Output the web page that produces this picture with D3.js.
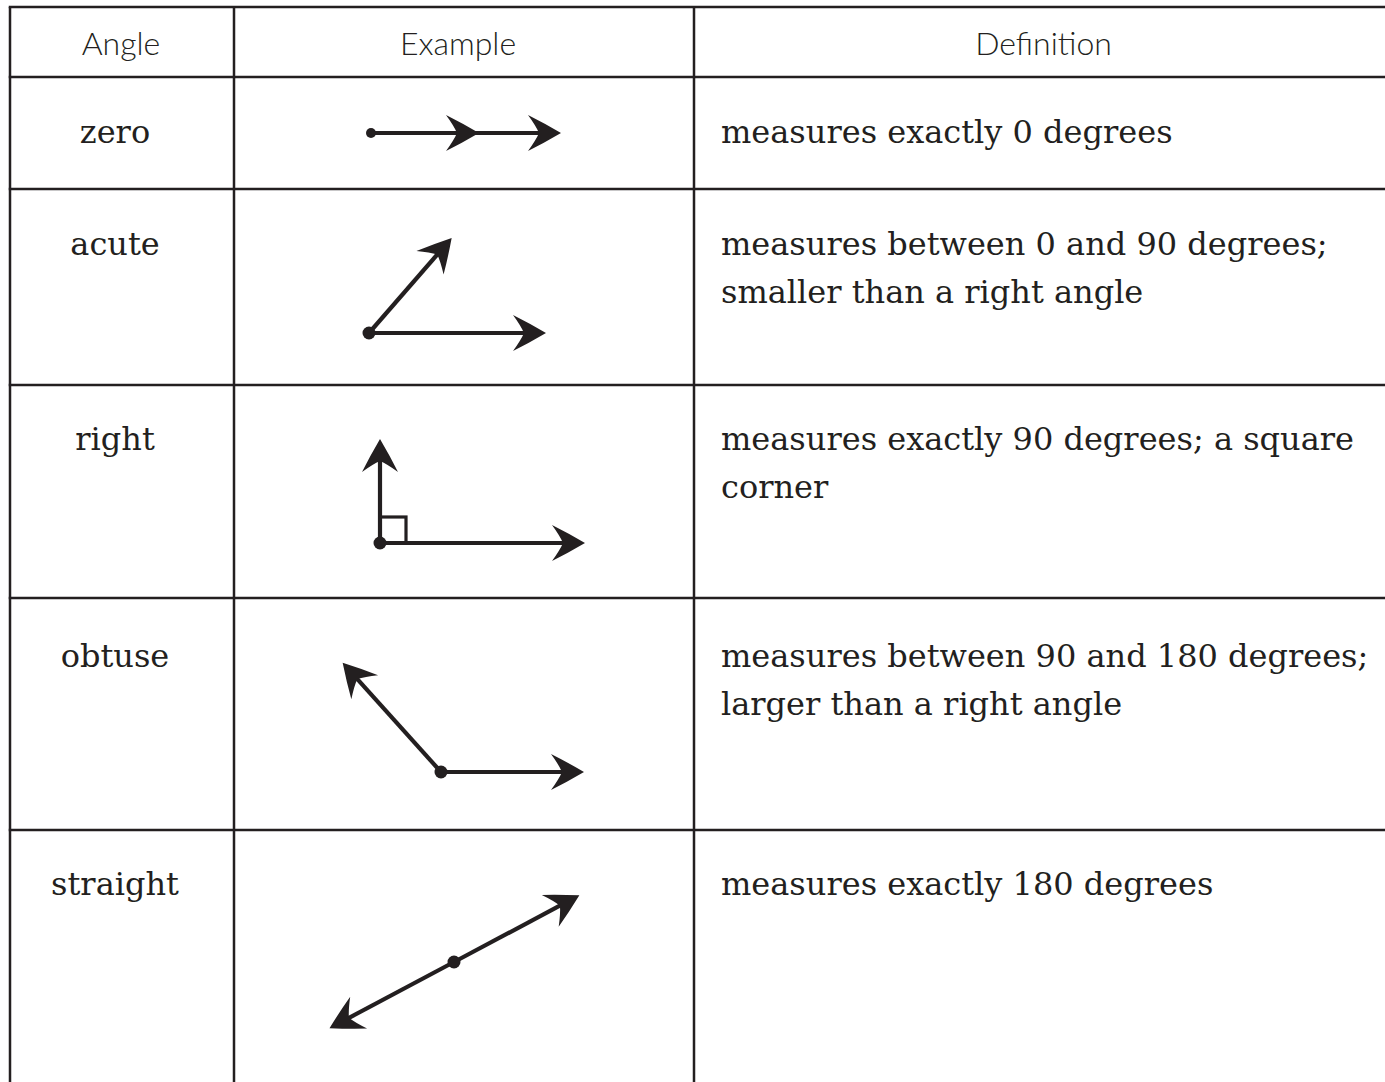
<!DOCTYPE html>
<html>
<head>
<meta charset="utf-8">
<script src="https://cdn.jsdelivr.net/npm/d3@7"></script>
<style>
  body { margin: 0; background: #fff; }
  .head { font-family: Lato, "Noto Sans", sans-serif; font-weight: 300; font-size: 32px; fill: #231f20; }
  .body { font-family: "DejaVu Serif", "Liberation Serif", serif; font-size: 32px; fill: #231f20; }
</style>
</head>
<body>
<div id="chart"></div>
<script>
//table content
var headers = ["Angle", "Example", "Definition"];
var angleNames = ["zero", "acute", "right", "obtuse", "straight"];
var definitions = [
    ["measures exactly 0 degrees"],
    ["measures between 0 and 90 degrees;", "smaller than a right angle"],
    ["measures exactly 90 degrees; a square", "corner"],
    ["measures between 90 and 180 degrees;", "larger than a right angle"],
    ["measures exactly 180 degrees"]
];

//rays of each example: direction in degrees and length in px
var rayAngles = [[0, 0], [0, 49], [0, 90], [0, 132], [28, 208]];
var rayLengths = [[108, 190], [177, 126], [205, 104], [143, 147], [142, 141]];

//layout
var width = 1385, height = 1082;
var colEdges = [10, 234, 694, width];
var rowEdges = [7, 77, 189, 385, 598, 830];
var vertexPos = [[371, 133], [369, 333], [380, 543], [441, 772], [454, 962]];
var firstBaseline = [66, 66, 65, 69, 65];
var headerShift = [-1, -6, 4];
var lineColor = "#231f20";

var svg = d3.select("#chart").append("svg")
    .attr("width", width)
    .attr("height", height);

svg.append("rect").attr("width", width).attr("height", height).attr("fill", "#fff");

//grid lines
var grid = svg.append("g").attr("class", "grid")
    .attr("stroke", lineColor)
    .attr("stroke-width", 2.5);

grid.selectAll("line.h")
    .data(rowEdges)
    .enter().append("line").attr("class", "h")
    .attr("x1", colEdges[0] - 1.25)
    .attr("x2", width)
    .attr("y1", d => d)
    .attr("y2", d => d);

grid.selectAll("line.v")
    .data(colEdges.slice(0, 3))
    .enter().append("line").attr("class", "v")
    .attr("x1", d => d)
    .attr("x2", d => d)
    .attr("y1", rowEdges[0])
    .attr("y2", height);

//header texts
svg.selectAll("text.head")
    .data(headers)
    .enter().append("text").attr("class", "head")
    .attr("x", (d, i) => (colEdges[i] + colEdges[i + 1]) / 2 + headerShift[i])
    .attr("y", 55)
    .attr("text-anchor", "middle")
    .text(d => d);

//angle names
svg.selectAll("text.name")
    .data(angleNames)
    .enter().append("text").attr("class", "body name")
    .attr("x", 115)
    .attr("y", (d, i) => rowEdges[i + 1] + firstBaseline[i])
    .attr("text-anchor", "middle")
    .text(d => d);

//definitions (one text per row, tspans per line)
svg.selectAll("text.def")
    .data(definitions)
    .enter().append("text").attr("class", "body def")
    .attr("y", (d, i) => rowEdges[i + 1] + firstBaseline[i])
    .each(function(lines) {
        var t = d3.select(this);
        var y0 = +t.attr("y");
        lines.forEach(function(line, j) {
            t.append("tspan")
                .attr("x", 721)
                .attr("y", y0 + j * 48)
                .text(line);
        });
    });

//degrees -> radial angle used by d3.pointRadial (0 deg = pointing right, counter-clockwise)
var angleScale = d3.scaleLinear().domain([0, 360]).range([Math.PI / 2, Math.PI / 2 - 2 * Math.PI]);

//barbed arrowhead pointing to +x with its tip at 0,0
var arrowHead = "M0,0 Q-17,-10 -33,-18 Q-25,-7 -22,0 Q-25,7 -33,18 Q-17,10 0,0 Z";

var examples = svg.selectAll("g.example")
    .data(angleNames)
    .enter().append("g").attr("class", "example")
    .attr("transform", (d, i) => `translate(${vertexPos[i][0]}, ${vertexPos[i][1]})`);

examples.each(function(name, i) {
    var g = d3.select(this);
    var rays = rayAngles[i].map((deg, k) => {
        var p = d3.pointRadial(angleScale(deg), rayLengths[i][k]);
        return {deg: deg, x: p[0], y: p[1]};
    });

    //right angle marker
    if (name === "right") {
        g.append("rect")
            .attr("x", 0).attr("y", -26)
            .attr("width", 26).attr("height", 26)
            .attr("fill", "none")
            .attr("stroke", lineColor)
            .attr("stroke-width", 3.2);
    }

    //shafts (stop a bit before the tip so the arrowhead point stays sharp)
    g.selectAll("line.ray")
        .data(rays)
        .enter().append("line").attr("class", "ray")
        .attr("x1", 0).attr("y1", 0)
        .attr("x2", d => d.x * (1 - 20 / Math.hypot(d.x, d.y)))
        .attr("y2", d => d.y * (1 - 20 / Math.hypot(d.x, d.y)))
        .attr("stroke", lineColor)
        .attr("stroke-width", 4.2);

    //arrowheads
    g.selectAll("path.head")
        .data(rays)
        .enter().append("path").attr("class", "head")
        .attr("d", arrowHead)
        .attr("fill", lineColor)
        .attr("transform", d => `translate(${d.x}, ${d.y}) rotate(${-d.deg})`);

    //vertex dot
    g.append("circle")
        .attr("r", name === "zero" ? 5 : 6.5)
        .attr("fill", lineColor);
});
</script>
</body>
</html>
